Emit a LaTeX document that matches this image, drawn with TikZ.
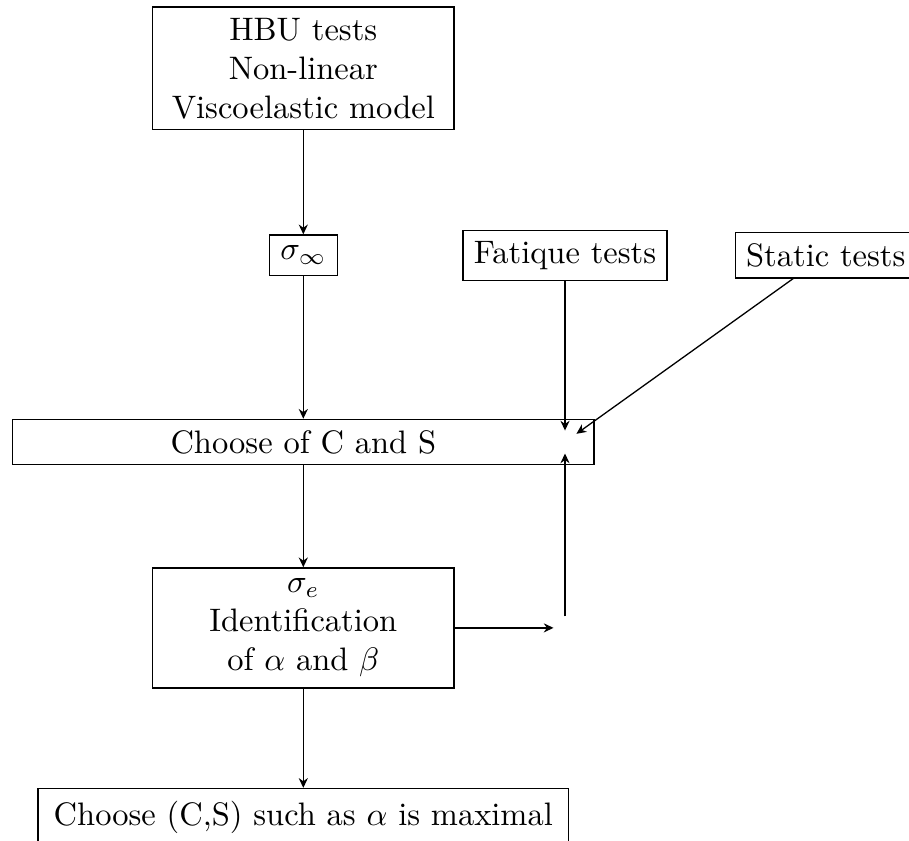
\documentclass[tikz,border=0pt]{standalone}
\usepackage{amssymb}
\usepackage{tikz}
\usetikzlibrary{arrows.meta}

\begin{document}
\begin{tikzpicture}[>={Stealth[length=3pt,width=2.8pt]},flowbox/.style={draw,align=center},hub/.style={inner sep=0.333em}]
\useasboundingbox (0,0) rectangle (9.83,-9.09);
\node[flowbox,minimum width=3.26cm] (hbu) at (3.28,-0.74) {HBU tests\\Non-linear\\Viscoelastic model};
\node[flowbox] (sinf) at (3.28,-2.76) {$\sigma_\infty$};
\node[flowbox] (fat) at (6.11,-2.76) {Fatique tests};
\node[flowbox] (stat) at (8.93,-2.76) {Static tests};
\node[flowbox,minimum width=6.29cm] (choose) at (3.28,-4.78) {Choose of C and S};
\node[hub] (j1) at (6.11,-4.78) {};
\node[flowbox,minimum width=3.26cm] (ident) at (3.28,-6.79) {$\sigma_e$\\Identification\\of $\alpha$ and $\beta$};
\node[hub] (j2) at (6.11,-6.79) {};
\node[flowbox,anchor=north,minimum width=5.74cm,minimum height=0.63cm] (final) at (3.28,-8.52) {Choose (C,S) such as $\alpha$ is maximal};
\draw[->] (hbu) -- (sinf);
\draw[->] (sinf) -- (choose);
\draw[->] (choose) -- (ident);
\draw[->] (ident) -- (final);
\draw[->] (fat) -- (j1);
\draw[->] (stat) -- (j1);
\draw[->] (ident) -- (j2);
\draw[->] (j2) -- (j1);
\end{tikzpicture}
\end{document}
